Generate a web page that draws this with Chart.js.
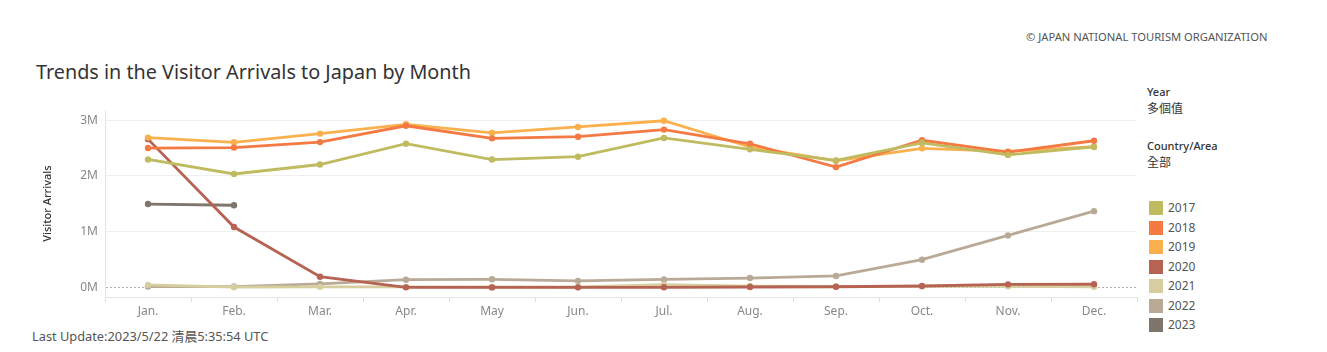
<!DOCTYPE html>
<html>
<head>
<meta charset="utf-8">
<script src="https://cdn.jsdelivr.net/npm/chart.js@4"></script>
<style>
body{margin:0;background:#fff;width:1327px;height:352px;position:relative;overflow:hidden;font-family:"Noto Sans","Noto Sans CJK TC",sans-serif}
.t{position:absolute;white-space:nowrap;line-height:16px}
#copy{left:1026px;top:29px;font-size:11.2px;color:#555}
#title{left:36px;top:59px;font-size:19.8px;line-height:26px;color:#333}
.hd{left:1147px;font-size:11px;color:#333;font-weight:500}
.sub{left:1147px;font-size:12px;color:#333}
#foot{left:32px;top:328px;font-size:12.8px;color:#555}
#wrap{position:absolute;left:0;top:96px;width:1141px;height:226px}
.sw{position:absolute;left:1149px;width:14px;height:14px}
.lb{left:1168px;font-size:12px;color:#555}
</style>
</head>
<body>
<div class="t" id="copy">© JAPAN NATIONAL TOURISM ORGANIZATION</div>
<div class="t" id="title">Trends in the Visitor Arrivals to Japan by Month</div>
<div class="t hd" style="top:84px">Year</div>
<div class="t sub" style="top:101px">多個值</div>
<div class="t hd" style="top:138px">Country/Area</div>
<div class="t sub" style="top:155px">全部</div>
<div id="legend"></div>
<div class="t" id="foot">Last Update:2023/5/22 清晨5:35:54 UTC</div>
<div id="wrap"><canvas id="chart"></canvas></div>
<script>
var months = ['Jan.', 'Feb.', 'Mar.', 'Apr.', 'May', 'Jun.', 'Jul.', 'Aug.', 'Sep.', 'Oct.', 'Nov.', 'Dec.'];
var years = ['2017', '2018', '2019', '2020', '2021', '2022', '2023'];
var colors = ['#bfbb60', '#f47942', '#fbb04e', '#b66353', '#d7ce9f', '#b9aa97', '#7e756d'];
var yTicks = [0, 1000000, 2000000, 3000000];

var v2017 = [2296000, 2036000, 2206000, 2579000, 2295000, 2346000, 2682000, 2478000, 2280000, 2595000, 2378000, 2521000];
var v2018 = [2501000, 2509000, 2608000, 2901000, 2675000, 2705000, 2832000, 2578000, 2160000, 2641000, 2427000, 2632000];
var v2019 = [2689000, 2604000, 2760000, 2927000, 2773000, 2880000, 2991000, 2520000, 2273000, 2497000, 2441000, 2526000];
var v2020 = [2661000, 1085000, 194000, 3000, 2000, 3000, 4000, 9000, 14000, 27000, 57000, 59000];
var v2021 = [47000, 7000, 12000, 11000, 10000, 9000, 51000, 26000, 18000, 22000, 21000, 12000];
var v2022 = [18000, 17000, 66000, 140000, 147000, 120000, 145000, 170000, 207000, 499000, 935000, 1370000];
var v2023 = [1497000, 1475000];
var series = [v2017, v2018, v2019, v2020, v2021, v2022, v2023];

// legend on the right
var legend = document.getElementById('legend');
years.forEach(function (y, i) {
    var top = 208 + i * 19.5;
    legend.innerHTML += '<div class="sw" style="top:' + (top - 7) + 'px;background:' + colors[i] + '"></div>' +
        '<div class="t lb" style="top:' + (top - 8) + 'px">' + y + '</div>';
});

var ctx = document.getElementById('chart').getContext('2d');
var trendChart = new Chart(ctx, {
    type: 'line',
    data: {
        labels: months,
        datasets: years.map(function (y, i) {
            return {
                label: y,
                data: series[i],
                borderColor: colors[i],
                backgroundColor: colors[i],
                borderWidth: 2.8,
                pointRadius: 3.2,
                pointBorderWidth: 0,
                tension: 0
            };
        })
    },
    options: {
        responsive: true,
        maintainAspectRatio: false,
        animation: false,
        layout: { padding: { top: 0, right: 0, left: 0, bottom: 0 } },
        plugins: { legend: { display: false }, tooltip: { enabled: false } },
        scales: {
            x: {
                offset: true,
                grid: { offset: true, drawOnChartArea: false, drawTicks: true, tickLength: 5, color: '#dddddd' },
                border: { color: '#e4e4e4' },
                ticks: { color: '#888', padding: 2, font: { family: 'Noto Sans', size: 12 } },
                afterFit: function (axis) { axis.height = 25; }
            },
            y: {
                min: -170000,
                max: 3180000,
                afterBuildTicks: function (axis) {
                    axis.ticks = yTicks.map(function (v) { return { value: v }; });
                },
                grid: {
                    drawTicks: false,
                    color: function (c) { return c.tick && c.tick.value === 0 ? '#b0b0b0' : '#efefef'; }
                },
                border: {
                    color: '#e4e4e4',
                    dash: function (c) { return c.tick && c.tick.value === 0 ? [2, 2] : []; }
                },
                ticks: {
                    color: '#888',
                    padding: 7,
                    font: { family: 'Noto Sans', size: 12 },
                    callback: function (v) { return (v / 1000000) + 'M'; }
                },
                title: {
                    display: true,
                    text: 'Visitor Arrivals',
                    color: '#333',
                    font: { family: 'Noto Sans', size: 11, weight: '500' },
                    padding: { top: 41, bottom: 0 }
                },
                afterFit: function (axis) { axis.width = 105; }
            }
        }
    }
});
</script>
</body>
</html>
